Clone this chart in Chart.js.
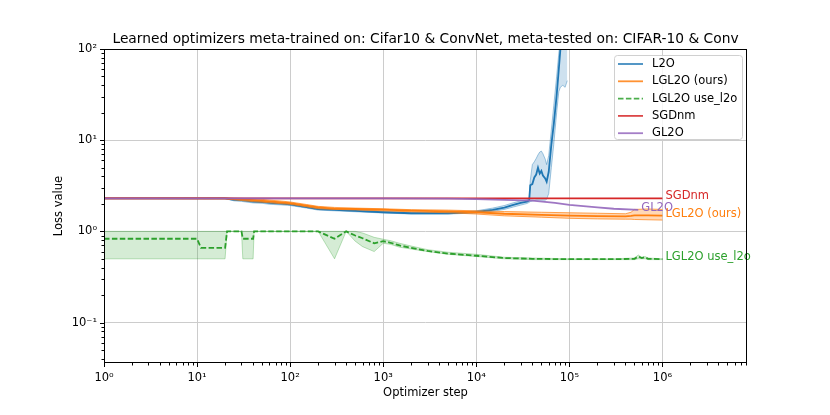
<!DOCTYPE html>
<html>
<head>
<meta charset="utf-8">
<script src="https://cdn.jsdelivr.net/npm/chart.js@4.4.1/dist/chart.umd.min.js"></script>
<style>
  html, body { margin: 0; padding: 0; background: #fff; }
  #wrap { width: 830px; height: 415px; }
</style>
</head>
<body>
<div id="wrap"><canvas id="lossChart"></canvas></div>
<script>
// Valores (estimados a olho)
const titleText = 'Learned optimizers meta-trained on: Cifar10 & ConvNet, meta-tested on: CIFAR-10 & Conv';
const xDecades = [1, 10, 100, 1000, 10000, 100000, 1000000];
const yDecades = [0.1, 1, 10, 100];

const sgdSteps = [1, 1000000];
const sgdLoss = [2.3, 2.3];

const gl2oSteps = [1, 100, 1000, 5000, 10000, 20000, 40000, 70000, 100000, 200000, 300000, 550000];
const gl2oLoss = [2.3, 2.3, 2.3, 2.29, 2.26, 2.22, 2.17, 2.05, 1.95, 1.83, 1.77, 1.72];

const l2oSteps = [1, 20, 25, 30, 40, 50, 60, 80, 100, 150, 200, 300, 500, 1000, 2000, 5000, 10000, 15000, 20000, 25000,
  30000, 35000, 37000, 38000, 40000, 42000, 44000, 46000, 48000, 50000, 52000, 55000, 57000, 60000, 64000, 68000, 73000, 77000, 80000, 85000,
  90000, 95000];
const l2oMean = [2.3, 2.3, 2.22, 2.2, 2.12, 2.1, 2.05, 2.02, 1.98, 1.85, 1.75, 1.72, 1.68, 1.62, 1.58, 1.58, 1.63, 1.72, 1.82, 1.95,
  2.05, 2.12, 2.18, 3.2, 3.3, 3.9, 4.2, 5.0, 4.3, 4.6, 4.1, 3.8, 3.5, 4.5, 8.9, 15, 31, 60, 98, 150,
  250, 400];
const l2oLow = [2.3, 2.28, 2.16, 2.13, 2.05, 2.03, 1.98, 1.95, 1.92, 1.8, 1.71, 1.68, 1.64, 1.59, 1.55, 1.55, 1.59, 1.66, 1.74, 1.85,
  1.94, 2.02, 2.08, 2.12, 2.15, 2.18, 2.2, 2.2, 2.2, 2.2, 2.2, 2.2, 2.25, 2.6, 5.0, 9, 20, 34, 38, 40,
  38, 45];
const l2oHigh = [2.3, 2.32, 2.28, 2.27, 2.2, 2.18, 2.12, 2.08, 2.04, 1.9, 1.79, 1.76, 1.72, 1.66, 1.61, 1.62, 1.68, 1.8, 1.92, 2.06,
  2.16, 2.22, 2.28, 3.6, 5.4, 5.8, 6.3, 6.9, 7.4, 7.6, 7.1, 6.2, 5.4, 6.8, 13, 24, 50, 90, 130, 250,
  400, 600];

const lglSteps = [1, 20, 25, 30, 40, 50, 60, 80, 100, 150, 200, 300, 500, 1000, 2000, 5000, 10000, 20000, 50000, 100000,
  200000, 400000, 460000, 500000, 700000, 1000000];
const lglMean = [2.3, 2.3, 2.27, 2.24, 2.2, 2.16, 2.13, 2.08, 2.04, 1.92, 1.83, 1.78, 1.76, 1.73, 1.69, 1.66, 1.62, 1.56, 1.52, 1.49,
  1.47, 1.46, 1.48, 1.5, 1.5, 1.49];
const lglLow = [2.3, 2.28, 2.22, 2.18, 2.12, 2.09, 2.06, 2.01, 1.98, 1.86, 1.77, 1.74, 1.72, 1.68, 1.64, 1.6, 1.55, 1.48, 1.43, 1.39,
  1.37, 1.36, 1.36, 1.35, 1.34, 1.33];
const lglHigh = [2.3, 2.32, 2.31, 2.3, 2.27, 2.24, 2.2, 2.15, 2.1, 1.97, 1.88, 1.83, 1.8, 1.77, 1.73, 1.71, 1.68, 1.65, 1.62, 1.6,
  1.58, 1.56, 1.62, 1.74, 1.76, 1.74];

const useSteps = [1, 10, 11, 20, 21, 30, 31, 40, 41, 200, 300, 400, 500, 600, 800, 1000, 1200, 1500, 2000, 3000,
  5000, 10000, 20000, 40000, 100000, 300000, 500000, 550000, 600000, 650000, 700000, 1000000];
const useMean = [0.83, 0.83, 0.66, 0.66, 1.0, 1.0, 0.83, 0.83, 1.0, 1.0, 0.83, 1.0, 0.9, 0.84, 0.74, 0.78, 0.75, 0.7, 0.66, 0.61,
  0.57, 0.54, 0.51, 0.5, 0.495, 0.495, 0.5, 0.53, 0.51, 0.52, 0.5, 0.495];
const useLow = [0.5, 0.5, 0.5, 0.5, 1.0, 1.0, 0.5, 0.5, 1.0, 1.0, 0.5, 1.0, 0.78, 0.68, 0.6, 0.74, 0.72, 0.67, 0.64, 0.6,
  0.56, 0.53, 0.5, 0.49, 0.49, 0.49, 0.49, 0.5, 0.5, 0.5, 0.49, 0.49];
const useHigh = [1.0, 1.0, 1.0, 1.0, 1.0, 1.0, 1.0, 1.0, 1.0, 1.0, 1.0, 1.0, 1.0, 0.96, 0.86, 0.82, 0.79, 0.74, 0.69, 0.63,
  0.59, 0.56, 0.52, 0.51, 0.5, 0.5, 0.51, 0.55, 0.52, 0.53, 0.51, 0.5];

// Cores (tab10)
const BLUE = '#1f77b4', ORANGE = '#ff7f0e', GREEN = '#2ca02c', RED = '#d62728', PURPLE = '#9467bd';
const FONT = '"DejaVu Sans", sans-serif';

const toXY = (xs, ys) => xs.map((x, i) => ({ x: x, y: ys[i] }));
const rgba = (hex, a) => {
  const n = parseInt(hex.slice(1), 16);
  return `rgba(${n >> 16}, ${(n >> 8) & 255}, ${n & 255}, ${a})`;
};

const supMap = { '0': '⁰', '1': '¹', '2': '²', '3': '³', '4': '⁴', '5': '⁵', '6': '⁶', '7': '⁷', '8': '⁸', '9': '⁹', '-': '⁻' };
const sup = s => String(s).split('').map(c => supMap[c]).join('');
const isDecade = v => Math.abs(Math.log10(v) - Math.round(Math.log10(v))) < 1e-6;

// Ticks menores 2..9 entre as décadas, como no matplotlib
const logTicks = (lo, hi) => {
  const out = [];
  for (let e = Math.floor(Math.log10(lo)); e <= Math.ceil(Math.log10(hi)); e++) {
    for (let m = 1; m < 10; m++) {
      const v = Number((m * Math.pow(10, e)).toPrecision(6));
      if (v >= lo * 0.9999 && v <= hi * 1.0001) out.push({ value: v, major: isDecade(v) });
    }
  }
  return out;
};
const decadeLabel = v => isDecade(v) ? '10' + sup(Math.round(Math.log10(v))) : '';

const line = (label, xs, ys, color, extra) => Object.assign({
  label: label,
  data: toXY(xs, ys),
  borderColor: color,
  borderWidth: 1.8,
  pointRadius: 0,
  fill: false,
  tension: 0
}, extra || {});

const bandEdge = (xs, ys, color, fill, edgeAlpha, fillAlpha) => ({
  data: toXY(xs, ys),
  borderColor: rgba(color, edgeAlpha),
  borderWidth: 1,
  backgroundColor: rgba(color, fillAlpha),
  pointRadius: 0,
  fill: fill,
  tension: 0
});

const legendItems = [
  { label: 'L2O', color: BLUE },
  { label: 'LGL2O (ours)', color: ORANGE },
  { label: 'LGL2O use_l2o', color: GREEN, dash: [5.5, 2.4] },
  { label: 'SGDnm', color: RED },
  { label: 'GL2O', color: PURPLE }
];

const endLabels = [
  { text: 'SGDnm', color: RED, xs: sgdSteps, ys: sgdLoss },
  { text: 'GL2O', color: PURPLE, xs: gl2oSteps, ys: gl2oLoss },
  { text: 'LGL2O (ours)', color: ORANGE, xs: lglSteps, ys: lglMean },
  { text: 'LGL2O use_l2o', color: GREEN, xs: useSteps, ys: useMean }
];

// Moldura, marcas dos ticks, rótulos das curvas, legenda e título
const decorPlugin = {
  id: 'decor',
  afterDraw(chart) {
    const { ctx, chartArea: a, scales: { x, y } } = chart;
    ctx.save();

    // textos no final das curvas
    ctx.font = '11.5px ' + FONT;
    ctx.textAlign = 'left';
    ctx.textBaseline = 'alphabetic';
    endLabels.forEach(l => {
      const i = l.xs.length - 1;
      ctx.fillStyle = l.color;
      ctx.fillText(l.text, x.getPixelForValue(l.xs[i]) + 3, y.getPixelForValue(l.ys[i]) + 1);
    });

    // marcas dos ticks (para fora): maiores 4px, menores 2.5px
    ctx.strokeStyle = '#000';
    ctx.lineWidth = 1;
    ctx.beginPath();
    x.ticks.forEach(t => {
      const px = Math.round(x.getPixelForValue(t.value)) + 0.5;
      const len = isDecade(t.value) ? 4 : 2.5;
      ctx.moveTo(px, a.bottom);
      ctx.lineTo(px, a.bottom + len);
    });
    y.ticks.forEach(t => {
      const py = Math.round(y.getPixelForValue(t.value)) + 0.5;
      const len = isDecade(t.value) ? 4 : 2.5;
      ctx.moveTo(a.left, py);
      ctx.lineTo(a.left - len, py);
    });
    ctx.stroke();

    // moldura
    ctx.strokeRect(a.left + 0.5, a.top + 0.5, a.right - a.left - 1, a.bottom - a.top - 1);

    // legenda
    const lx = 614, ly = 55, lw = 128, lh = 84;
    ctx.beginPath();
    ctx.roundRect(lx + 0.5, ly + 0.5, lw, lh, 3);
    ctx.fillStyle = 'rgba(255, 255, 255, 0.8)';
    ctx.fill();
    ctx.strokeStyle = '#d0d0d0';
    ctx.lineWidth = 1;
    ctx.stroke();
    ctx.font = '11.5px ' + FONT;
    ctx.textBaseline = 'middle';
    legendItems.forEach((it, i) => {
      const yy = ly + 9 + i * 17.3;
      ctx.beginPath();
      ctx.setLineDash(it.dash || []);
      ctx.strokeStyle = rgba(it.color, 0.85);
      ctx.lineWidth = 1.8;
      ctx.moveTo(lx + 4, yy);
      ctx.lineTo(lx + 29, yy);
      ctx.stroke();
      ctx.setLineDash([]);
      ctx.fillStyle = '#000';
      ctx.fillText(it.label, lx + 38, yy);
    });

    // título e nomes dos eixos
    const cx = (a.left + a.right) / 2;
    ctx.fillStyle = '#000';
    ctx.textAlign = 'center';
    ctx.textBaseline = 'alphabetic';
    ctx.font = '13.8px ' + FONT;
    ctx.fillText(titleText, cx, 43);
    ctx.font = '11.5px ' + FONT;
    ctx.fillText('Optimizer step', cx, 396);
    ctx.translate(62, (a.top + a.bottom) / 2);
    ctx.rotate(-Math.PI / 2);
    ctx.fillText('Loss value', 0, 0);
    ctx.restore();
  }
};

const axisCommon = (min, max) => ({
  type: 'logarithmic',
  min: min,
  max: max,
  afterBuildTicks: scale => { scale.ticks = logTicks(min, max); },
  grid: {
    drawTicks: false,
    lineWidth: 1,
    color: c => (c.tick && isDecade(c.tick.value)) ? '#cccccc' : 'rgba(0,0,0,0)'
  },
  border: { display: false },
  ticks: {
    autoSkip: false,
    maxRotation: 0,
    color: '#000',
    font: { family: FONT, size: 11.5 },
    callback: v => decadeLabel(v)
  }
});

const xAxis = axisCommon(1, 8.1e6);
xAxis.ticks.padding = 8;
xAxis.afterFit = scale => { scale.height = 52; };
const yAxis = axisCommon(0.036, 100);
yAxis.ticks.padding = 7;
yAxis.afterFit = scale => { scale.width = 104; };

new Chart(document.getElementById('lossChart').getContext('2d'), {
  type: 'line',
  data: {
    datasets: [
      line('GL2O', gl2oSteps, gl2oLoss, rgba(PURPLE, 0.9)),
      line('SGDnm', sgdSteps, sgdLoss, RED),
      line('LGL2O use_l2o', useSteps, useMean, GREEN, { borderDash: [5.5, 2.4] }),
      bandEdge(useSteps, useLow, GREEN, false, 0.3, 0.2),
      bandEdge(useSteps, useHigh, GREEN, '-1', 0.3, 0.2),
      line('LGL2O (ours)', lglSteps, lglMean, ORANGE),
      bandEdge(lglSteps, lglLow, ORANGE, false, 0.7, 0.3),
      bandEdge(lglSteps, lglHigh, ORANGE, '-1', 0.7, 0.3),
      line('L2O', l2oSteps, l2oMean, BLUE),
      bandEdge(l2oSteps, l2oLow, BLUE, false, 0.4, 0.22),
      bandEdge(l2oSteps, l2oHigh, BLUE, '-1', 0.4, 0.22)
    ]
  },
  options: {
    responsive: true,
    maintainAspectRatio: false,
    animation: false,
    events: [],
    layout: { padding: { left: 0, right: 83, top: 49, bottom: 0 } },
    plugins: {
      legend: { display: false },
      title: { display: false },
      tooltip: { enabled: false }
    },
    scales: { x: xAxis, y: yAxis }
  },
  plugins: [decorPlugin]
});
</script>
</body>
</html>
